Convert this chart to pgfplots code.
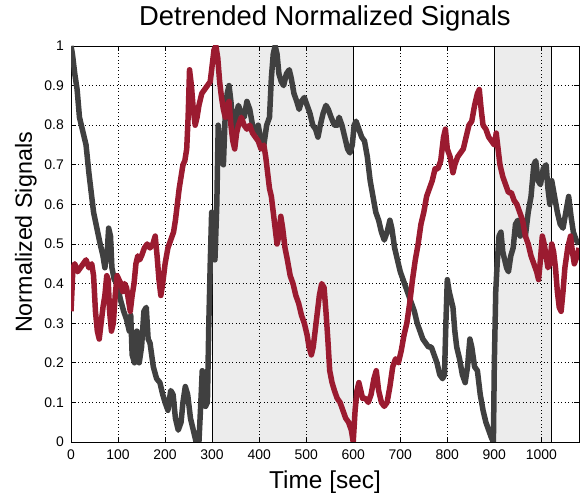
\documentclass[border=0pt]{standalone}
\usepackage{fontspec}
\setmainfont{Liberation Sans}
\usepackage{pgfplots}
\pgfplotsset{compat=1.18}
\definecolor{sig1}{RGB}{64,64,64}
\definecolor{sig2}{RGB}{155,27,48}
\definecolor{shade}{RGB}{236,236,236}
\begin{document}
\begin{tikzpicture}
\begin{axis}[
  set layers,
  scale only axis,
  width=508bp, height=396bp,
  xmin=0, xmax=1080, ymin=0, ymax=1,
  xtick={0,100,...,1000},
  ytick={0,0.1,...,1},
  yticklabels={0,0.1,0.2,0.3,0.4,0.5,0.6,0.7,0.8,0.9,1},
  scaled x ticks=false,
  /pgf/number format/1000 sep={},
  /pgf/number format/assume math mode=true,
  tick label style={font=\fontsize{14}{14}\selectfont},
  xticklabel style={inner sep=0pt, anchor=north, yshift=-8bp},
  yticklabel style={inner sep=0pt, anchor=east, xshift=-7bp},
  tick align=inside,
  major tick length=5bp,
  tick style={black, line width=0.8bp},
  axis line style={black, line width=0.9bp},
  grid=major,
  major grid style={black, line width=0.7bp, dash pattern=on 0.9bp off 2.6bp},
  title={Detrended Normalized Signals},
  title style={font=\fontsize{27.5}{27.5}\selectfont, at={(axis description cs:0.5,1)}, anchor=base, yshift=15bp, inner sep=0pt},
  xlabel={Time [sec]},
  xlabel style={font=\fontsize{24.5}{24.5}\selectfont, at={(axis description cs:0.5,0)}, anchor=base, yshift=-46bp, inner sep=0pt},
  ylabel={Normalized Signals},
  ylabel style={font=\fontsize{23.4}{23.4}\selectfont, at={(axis description cs:-0.077,0.529)}, anchor=base, inner sep=0pt},
]
% shaded intervals
\addplot[on layer=axis background, draw=none, fill=shade] coordinates {(300,0) (300,1) (600,1) (600,0)} \closedcycle;
\addplot[on layer=axis background, draw=none, fill=shade] coordinates {(900,0) (900,1) (1022,1) (1022,0)} \closedcycle;
% interval borders
\addplot[black, line width=0.9bp] coordinates {(300,0) (300,1)};
\addplot[black, line width=0.9bp] coordinates {(600,0) (600,1)};
\addplot[black, line width=0.9bp] coordinates {(900,0) (900,1)};
\addplot[black, line width=0.9bp] coordinates {(1022,0) (1022,1)};
% gray signal
\addplot[sig1, line width=5.5bp, line join=round] coordinates {
(0,1.0) (3,0.98) (8,0.93) (13,0.89) (18,0.82) (22,0.80) (28,0.77) (32,0.75) (38,0.68) (44,0.62) (48,0.58) (55,0.54) (62,0.50) (68,0.47) (72,0.44) (77,0.48) (80,0.54) (84,0.52) (87,0.44) (92,0.41) (98,0.40) (105,0.36) (112,0.33) (118,0.31) (124,0.28)
(127,0.32) (130,0.22) (135,0.20) (140,0.28) (145,0.20) (150,0.24) (155,0.33) (160,0.34) (164,0.26) (168,0.25) (175,0.19) (182,0.16) (189,0.15) (195,0.12) (200,0.10) (206,0.08) (212,0.13) (217,0.12) (222,0.06) (228,0.03) (234,0.05) (238,0.10) (243,0.14) (248,0.12) (254,0.06) (260,0.03) (266,0.0) (272,0.0) (276,0.10) (279,0.18) (283,0.17) (286,0.09) (290,0.10) (293,0.30) (296,0.45) (299,0.58)
(302,0.57) (306,0.46) (310,0.60) (313,0.80) (317,0.75) (320,0.72) (324,0.70) (328,0.83) (332,0.88) (336,0.90) (340,0.86) (344,0.80) (348,0.78) (352,0.83) (356,0.85) (362,0.83) (368,0.82) (374,0.86) (380,0.84) (386,0.80) (392,0.78) (398,0.80) (404,0.76) (410,0.75) (416,0.80) (422,0.82) (426,0.92) (430,0.98) (434,1.0) (438,0.98) (442,0.93) (447,0.91) (452,0.90) (458,0.93) (464,0.94) (468,0.92) (474,0.88) (480,0.86) (485,0.84) (490,0.86) (496,0.87) (502,0.85) (508,0.83) (514,0.80) (520,0.79) (525,0.77) (530,0.80) (536,0.83) (542,0.85) (547,0.84) (553,0.82) (560,0.80) (566,0.80) (570,0.82) (576,0.80) (582,0.77) (588,0.74) (593,0.73) (598,0.75)
(602,0.80) (606,0.81) (612,0.79) (618,0.77) (624,0.76) (630,0.72) (636,0.66) (642,0.62) (648,0.58) (654,0.56) (660,0.53) (666,0.51) (672,0.53) (678,0.56) (682,0.54) (688,0.49) (694,0.46) (700,0.43) (706,0.41) (712,0.39) (718,0.37) (724,0.35) (730,0.33) (736,0.30) (742,0.28) (748,0.26) (754,0.25) (760,0.24) (766,0.24) (772,0.22) (778,0.20) (784,0.17) (790,0.16) (794,0.17) (797,0.30) (800,0.41) (804,0.38) (808,0.36) (812,0.34) (816,0.28) (820,0.24) (826,0.21) (832,0.17) (838,0.15) (843,0.19) (848,0.26) (852,0.24) (858,0.19) (864,0.18) (870,0.12) (876,0.08) (882,0.05) (888,0.03) (894,0.01) (898,0.0)
(900,0.20) (903,0.38) (906,0.45) (910,0.52) (914,0.53) (918,0.48) (922,0.46) (926,0.44) (930,0.43) (935,0.47) (940,0.49) (945,0.55) (950,0.56) (955,0.52) (960,0.54) (966,0.52) (972,0.58) (978,0.62) (984,0.70) (988,0.71) (993,0.66) (998,0.65) (1004,0.69) (1010,0.70) (1014,0.64) (1018,0.60) (1022,0.66) (1028,0.62) (1034,0.58) (1040,0.55) (1046,0.54) (1052,0.58) (1058,0.62) (1063,0.57) (1068,0.53) (1074,0.51) (1080,0.50)
};
% red signal
\addplot[sig2, line width=5.5bp, line join=round] coordinates {
(0,0.33) (2,0.38) (4,0.44) (8,0.45) (14,0.43) (20,0.44) (26,0.45) (32,0.46) (38,0.44) (44,0.45) (48,0.42) (52,0.33) (56,0.28) (60,0.26) (64,0.30) (68,0.34) (72,0.37) (76,0.42) (79,0.41) (82,0.33) (86,0.28) (90,0.30) (94,0.37) (98,0.42) (102,0.41) (106,0.40) (110,0.38) (114,0.40) (118,0.39) (122,0.36) (126,0.33) (130,0.37) (134,0.40) (138,0.45) (142,0.47) (146,0.46) (150,0.47) (156,0.49) (162,0.50) (168,0.49) (174,0.50) (179,0.52) (183,0.47) (187,0.41) (191,0.37) (195,0.40)
(200,0.45) (206,0.49) (212,0.51) (218,0.53) (222,0.56) (226,0.60) (230,0.64) (234,0.67) (238,0.70) (242,0.71) (246,0.74) (249,0.82) (252,0.94) (256,0.90) (260,0.84) (264,0.80) (268,0.82) (272,0.85) (278,0.88) (284,0.89) (290,0.90) (296,0.91) (300,0.95) (304,0.99) (308,1.0) (312,0.97) (316,0.91) (320,0.87) (324,0.84) (328,0.82) (332,0.85) (336,0.86) (340,0.80) (344,0.76) (348,0.74) (352,0.78) (356,0.80) (362,0.82) (368,0.80) (374,0.79) (380,0.80) (386,0.78) (392,0.77) (398,0.76)
(404,0.74) (410,0.75) (414,0.72) (418,0.68) (422,0.64) (426,0.62) (430,0.58) (434,0.54) (438,0.50) (442,0.52) (446,0.57) (450,0.54) (455,0.49) (460,0.46) (466,0.42) (472,0.40) (478,0.37) (484,0.35) (490,0.32) (496,0.30) (502,0.27) (506,0.24) (511,0.22) (515,0.24) (519,0.28) (523,0.32) (528,0.37) (533,0.40) (538,0.39) (542,0.33) (546,0.26) (550,0.18) (555,0.15) (560,0.13) (566,0.11) (572,0.10) (578,0.08) (584,0.06) (590,0.05) (596,0.03) (600,0.0)
(604,0.08) (608,0.13) (612,0.15) (616,0.13) (620,0.11) (626,0.11) (632,0.10) (638,0.12) (644,0.16) (649,0.18) (654,0.13) (660,0.10) (666,0.09) (672,0.10) (678,0.14) (684,0.19) (690,0.21) (696,0.20) (702,0.23) (708,0.27) (714,0.30) (720,0.35) (726,0.41) (732,0.46) (738,0.50) (744,0.55) (750,0.58) (756,0.62) (762,0.64) (768,0.66) (774,0.69) (780,0.69) (786,0.71) (792,0.77) (796,0.79)
(800,0.74) (806,0.72) (812,0.68) (816,0.70) (822,0.72) (828,0.73) (834,0.74) (840,0.77) (846,0.80) (852,0.81) (858,0.85) (864,0.88) (868,0.89) (872,0.84) (876,0.80) (882,0.79) (888,0.77) (894,0.76) (900,0.75) (904,0.78) (908,0.74) (912,0.70) (918,0.67) (924,0.65) (930,0.63) (936,0.63) (942,0.61) (948,0.60) (954,0.58) (960,0.56) (966,0.52) (972,0.50) (978,0.47) (984,0.45) (990,0.43) (994,0.41) (998,0.46)
(1002,0.52) (1006,0.50) (1010,0.47) (1014,0.44) (1018,0.45) (1022,0.50) (1026,0.48) (1030,0.44) (1034,0.38) (1038,0.34) (1042,0.33) (1046,0.38) (1050,0.44) (1056,0.49) (1062,0.52) (1066,0.48) (1070,0.45) (1076,0.47) (1080,0.49)
};
\end{axis}
\pgfresetboundingbox
\useasboundingbox (-71bp,-51bp) rectangle (510bp,442bp);
\end{tikzpicture}
\end{document}
